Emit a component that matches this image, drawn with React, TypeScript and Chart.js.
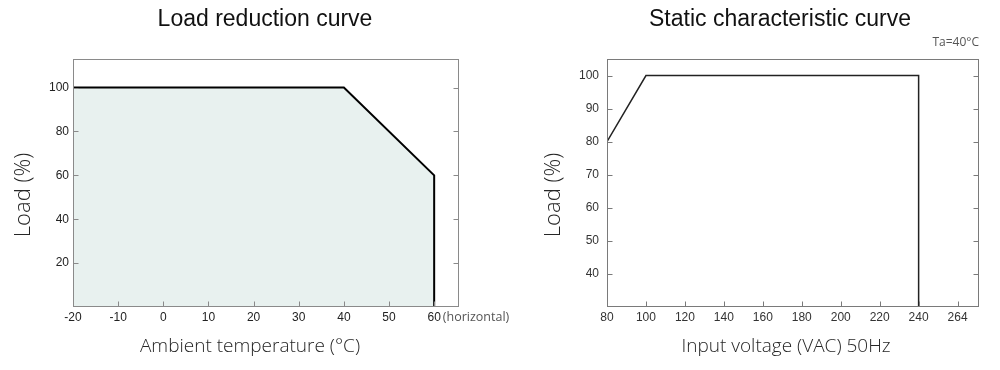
import React, { useEffect, useRef } from "react";
import { Chart, registerables } from "chart.js";

Chart.register(...registerables);

// ---- Data: Load reduction curve ----
const tempX = [-20, 40, 60, 60];
const tempLoad = [100, 100, 60, 0];
const tempTicks = [-20, -10, 0, 10, 20, 30, 40, 50, 60];
const tempLoadTicks = [20, 40, 60, 80, 100];
const tempNote = "(horizontal)";

// ---- Data: Static characteristic curve ----
const voltX = [80, 100, 240, 240];
const voltLoad = [80, 100, 100, 30];
const voltTicks = [80, 100, 120, 140, 160, 180, 200, 220, 240, 260];
const voltTickLabels = ["80", "100", "120", "140", "160", "180", "200", "220", "240", "264"];
const voltLoadTicks = [40, 50, 60, 70, 80, 90, 100];

const TITLE_FONT = "'Liberation Sans', Arial, sans-serif";
const LABEL_FONT = "'Open Sans', 'Noto Sans', sans-serif";

function makeDecor(opts: {
  yTitle: string;
  yTitlePos: [number, number];
  xTitle: string;
  xTitlePos: [number, number];
  frameColor: string;
  tickColor: string;
  note?: string;
  noteValue?: number;
  noteFont?: string;
}) {
  return {
    id: "decor",
    afterDatasetsDraw(chart: any) {
      const { ctx, chartArea: a, scales } = chart;
      const L = Math.round(a.left) + 0.5;
      const R = Math.round(a.right) - 0.5;
      const T = Math.round(a.top) + 0.5;
      const B = Math.round(a.bottom) - 0.5;
      ctx.save();
      ctx.strokeStyle = opts.tickColor;
      ctx.lineWidth = 1;
      const tl = 5;
      ctx.beginPath();
      for (const t of scales.x.ticks) {
        const px = Math.round(scales.x.getPixelForValue(t.value)) + 0.5;
        ctx.moveTo(px, B);
        ctx.lineTo(px, B - tl);
      }
      for (const t of scales.y.ticks) {
        const py = Math.round(scales.y.getPixelForValue(t.value)) + 0.5;
        ctx.moveTo(L, py);
        ctx.lineTo(L + tl, py);
        ctx.moveTo(R, py);
        ctx.lineTo(R - tl, py);
      }
      ctx.stroke();
      ctx.strokeStyle = opts.frameColor;
      ctx.strokeRect(L, T, R - L, B - T);
      ctx.restore();
    },
    afterDraw(chart: any) {
      const { ctx, scales } = chart;
      ctx.save();
      ctx.fillStyle = "#262626";
      ctx.textAlign = "center";
      ctx.textBaseline = "middle";
      ctx.font = `300 19px ${LABEL_FONT}`;
      ctx.fillText(opts.xTitle, opts.xTitlePos[0], opts.xTitlePos[1]);
      ctx.save();
      ctx.translate(opts.yTitlePos[0], opts.yTitlePos[1]);
      ctx.rotate(-Math.PI / 2);
      ctx.font = `300 22px ${LABEL_FONT}`;
      ctx.fillText(opts.yTitle, 0, 0);
      ctx.restore();
      if (opts.note && opts.noteValue !== undefined) {
        const sx = scales.x;
        const px = sx.getPixelForValue(opts.noteValue);
        ctx.font = opts.noteFont || "12px sans-serif";
        const half = ctx.measureText(String(opts.noteValue)).width / 2;
        ctx.font = `12.5px ${LABEL_FONT}`;
        ctx.fillStyle = "#555";
        ctx.textAlign = "left";
        ctx.fillText(opts.note, px + half + 2, sx.top + 3 + 7.2);
      }
      ctx.restore();
    },
  };
}

function LoadReduction() {
  const ref = useRef<HTMLCanvasElement | null>(null);
  useEffect(() => {
    if (!ref.current) return;
    const tickFont = { family: "'Liberation Sans Narrow', 'Liberation Sans', Arial, sans-serif", size: 12 };
    const chart = new Chart(ref.current, {
      type: "line",
      data: {
        datasets: [
          {
            data: tempX.map((x, i) => ({ x, y: tempLoad[i] })),
            borderColor: "#000",
            borderWidth: 2,
            backgroundColor: "#e8f1ef",
            fill: "origin",
            pointRadius: 0,
            tension: 0,
          },
        ],
      },
      options: {
        responsive: false,
        animation: false,
        layout: { padding: 0 },
        plugins: {
          legend: { display: false },
          tooltip: { enabled: false },
          title: {
            display: true,
            text: "Load reduction curve",
            color: "#111",
            font: { family: TITLE_FONT, size: 23, weight: "normal", lineHeight: 1 },
            padding: { top: 8, bottom: 28 },
            fullSize: true,
          },
        },
        scales: {
          x: {
            type: "linear",
            min: -20,
            max: 65.5,
            afterBuildTicks: (s: any) => {
              s.ticks = tempTicks.map((v) => ({ value: v }));
            },
            afterFit: (s: any) => {
              s.height = 63;
            },
            ticks: { autoSkip: false, maxRotation: 0, padding: 3, color: "#222", font: tickFont },
            grid: { display: true, drawOnChartArea: false, drawTicks: false },
            border: { display: false },
          },
          y: {
            type: "linear",
            min: 0,
            max: 113,
            afterBuildTicks: (s: any) => {
              s.ticks = tempLoadTicks.map((v) => ({ value: v }));
            },
            afterFit: (s: any) => {
              s.width = 73;
            },
            ticks: { padding: 4, color: "#222", font: tickFont },
            grid: { display: true, drawOnChartArea: false, drawTicks: false },
            border: { display: false },
          },
          y2: {
            type: "linear",
            position: "right",
            min: 0,
            max: 113,
            afterFit: (s: any) => {
              s.width = 71;
            },
            ticks: { display: false },
            grid: { display: false },
            border: { display: false },
          },
        },
      } as any,
      plugins: [
        makeDecor({
          yTitle: "Load (%)",
          yTitlePos: [24, 195],
          xTitle: "Ambient temperature (°C)",
          xTitlePos: [250, 347],
          frameColor: "#8a8a8a",
          tickColor: "#8a8a8a",
          note: tempNote,
          noteValue: 60,
          noteFont: "12px 'Liberation Sans Narrow', 'Liberation Sans', Arial, sans-serif",
        }),
      ],
    });
    return () => chart.destroy();
  }, []);
  return <canvas ref={ref} width={530} height={370} style={{ display: "block" }} />;
}

function StaticCurve() {
  const ref = useRef<HTMLCanvasElement | null>(null);
  useEffect(() => {
    if (!ref.current) return;
    const tickFont = { family: "'Liberation Sans', Arial, sans-serif", size: 12 };
    const chart = new Chart(ref.current, {
      type: "line",
      data: {
        datasets: [
          {
            data: voltX.map((x, i) => ({ x, y: voltLoad[i] })),
            borderColor: "#222",
            borderWidth: 1.5,
            fill: false,
            pointRadius: 0,
            tension: 0,
          },
        ],
      },
      options: {
        responsive: false,
        animation: false,
        layout: { padding: 0 },
        plugins: {
          legend: { display: false },
          tooltip: { enabled: false },
          title: {
            display: true,
            text: "Static characteristic curve",
            color: "#111",
            font: { family: TITLE_FONT, size: 23, weight: "normal", lineHeight: 1 },
            padding: { top: 8, bottom: 0 },
            fullSize: true,
          },
          subtitle: {
            display: true,
            text: "Ta=40°C",
            align: "end",
            color: "#555",
            font: { family: LABEL_FONT, size: 12, weight: "normal", lineHeight: 1 },
            padding: { top: 6, bottom: 10 },
            fullSize: false,
          },
        },
        scales: {
          x: {
            type: "linear",
            min: 80,
            max: 271,
            afterBuildTicks: (s: any) => {
              s.ticks = voltTicks.map((v) => ({ value: v }));
            },
            afterFit: (s: any) => {
              s.height = 63;
            },
            ticks: {
              autoSkip: false,
              maxRotation: 0,
              padding: 3,
              color: "#333",
              font: tickFont,
              callback: (v: any) => {
                const i = voltTicks.indexOf(Number(v));
                return i >= 0 ? voltTickLabels[i] : "";
              },
            },
            grid: { display: true, drawOnChartArea: false, drawTicks: false },
            border: { display: false },
          },
          y: {
            type: "linear",
            min: 30,
            max: 105,
            afterBuildTicks: (s: any) => {
              s.ticks = voltLoadTicks.map((v) => ({ value: v }));
            },
            afterFit: (s: any) => {
              s.width = 77;
            },
            ticks: { padding: 8, color: "#333", font: tickFont },
            grid: { display: true, drawOnChartArea: false, drawTicks: false },
            border: { display: false },
          },
          y2: {
            type: "linear",
            position: "right",
            min: 30,
            max: 105,
            afterFit: (s: any) => {
              s.width = 51;
            },
            ticks: { display: false },
            grid: { display: false },
            border: { display: false },
          },
        },
      } as any,
      plugins: [
        makeDecor({
          yTitle: "Load (%)",
          yTitlePos: [24, 195],
          xTitle: "Input voltage (VAC) 50Hz",
          xTitlePos: [256, 347],
          frameColor: "#7a7a7a",
          tickColor: "#7a7a7a",
        }),
      ],
    });
    return () => chart.destroy();
  }, []);
  return <canvas ref={ref} width={500} height={370} style={{ display: "block" }} />;
}

export default function App() {
  return (
    <div
      style={{
        position: "absolute",
        left: 0,
        top: 0,
        width: 1000,
        height: 370,
        overflow: "hidden",
        background: "#fff",
      }}
    >
      <div style={{ position: "absolute", left: 0, top: 0, width: 530, height: 370 }}>
        <LoadReduction />
      </div>
      <div style={{ position: "absolute", left: 530, top: 0, width: 500, height: 370 }}>
        <StaticCurve />
      </div>
    </div>
  );
}
